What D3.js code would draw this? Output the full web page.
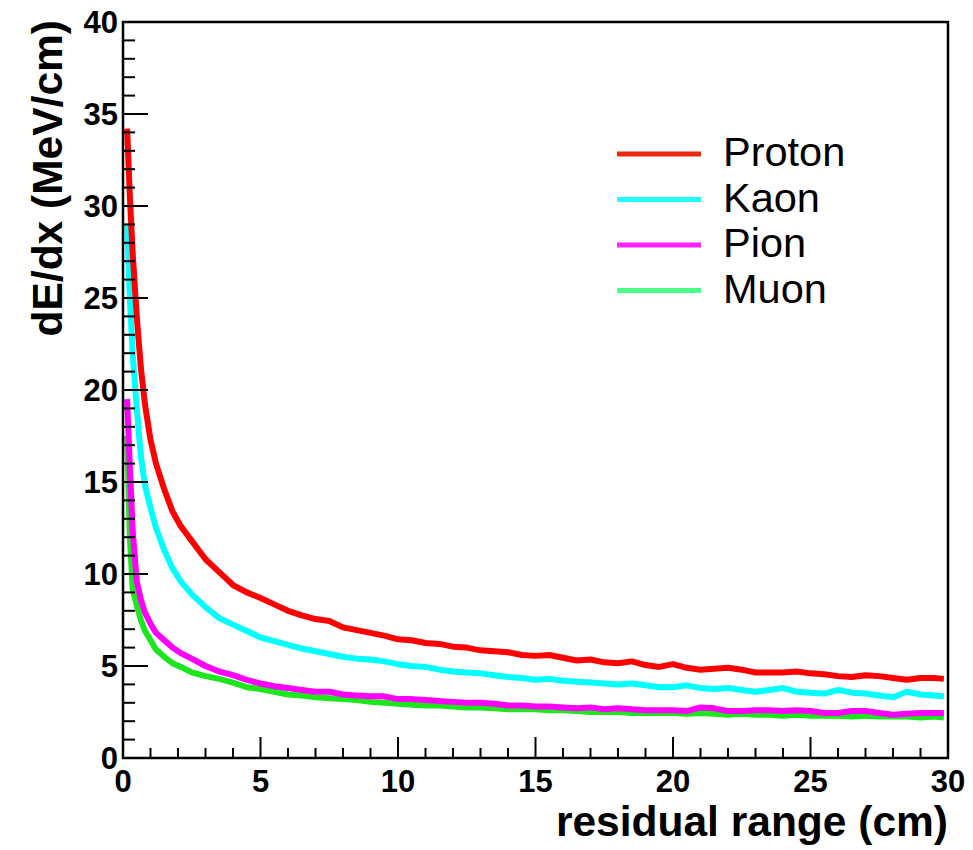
<!DOCTYPE html>
<html>
<head>
<meta charset="utf-8">
<script src="https://cdn.jsdelivr.net/npm/d3@7"></script>
<style>
  body { margin: 0; background: #fff; }
  svg { display: block; font-family: "Liberation Sans", Arial, Helvetica, sans-serif; }
</style>
</head>
<body>
<svg id="chart" width="973" height="850"></svg>
<script>
// residual range bins (cm)
const rr = [0.15, 0.25, 0.35, 0.5, 0.65, 0.8, 1.0, 1.2, 1.5, 1.8, 2.1, 2.5,
  3.0, 3.5, 4.0, 4.5, 5.0, 5.5, 6.0, 6.5, 7.0, 7.5, 8.0, 8.5, 9.0, 9.5,
  10.0, 10.5, 11.0, 11.5, 12.0, 12.5, 13.0, 13.5, 14.0, 14.5, 15.0, 15.5,
  16.0, 16.5, 17.0, 17.5, 18.0, 18.5, 19.0, 19.5, 20.0, 20.5, 21.0, 21.5,
  22.0, 22.5, 23.0, 23.5, 24.0, 24.5, 25.0, 25.5, 26.0, 26.5, 27.0, 27.5,
  28.0, 28.5, 29.0, 29.5, 29.85];

const proton = [34.2, 30.5, 27.5, 24.0, 21.2, 19.2, 17.3, 16.0, 14.6, 13.4, 12.6, 11.8,
  10.8, 10.1, 9.4, 9.0, 8.7, 8.35, 8.0, 7.75, 7.55, 7.45, 7.1, 6.95, 6.8, 6.65,
  6.45, 6.4, 6.25, 6.2, 6.05, 6.0, 5.85, 5.8, 5.75, 5.6, 5.55, 5.6,
  5.45, 5.3, 5.35, 5.2, 5.15, 5.25, 5.05, 4.95, 5.1, 4.9, 4.8, 4.85,
  4.9, 4.8, 4.65, 4.65, 4.65, 4.7, 4.6, 4.55, 4.45, 4.4, 4.5, 4.45,
  4.35, 4.25, 4.35, 4.35, 4.3];

const kaon = [29.0, 24.9, 22.0, 19.0, 16.4, 14.8, 13.6, 12.5, 11.3, 10.3, 9.6, 8.9,
  8.2, 7.6, 7.25, 6.9, 6.55, 6.35, 6.15, 5.95, 5.8, 5.65, 5.5, 5.4, 5.35, 5.25,
  5.1, 5.0, 4.95, 4.8, 4.7, 4.65, 4.6, 4.5, 4.4, 4.35, 4.25, 4.3,
  4.2, 4.15, 4.1, 4.05, 4.0, 4.05, 3.95, 3.85, 3.85, 3.95, 3.8, 3.75,
  3.8, 3.7, 3.6, 3.7, 3.8, 3.6, 3.55, 3.5, 3.7, 3.55, 3.5, 3.4,
  3.3, 3.6, 3.45, 3.4, 3.35];

const pion = [19.5, 15.8, 12.4, 9.6, 8.6, 7.9, 7.3, 6.8, 6.4, 6.0, 5.7, 5.4,
  5.0, 4.7, 4.5, 4.25, 4.05, 3.9, 3.8, 3.7, 3.6, 3.6, 3.45, 3.4, 3.35, 3.35,
  3.2, 3.2, 3.15, 3.1, 3.05, 3.0, 3.0, 2.95, 2.85, 2.85, 2.8, 2.8,
  2.75, 2.7, 2.75, 2.65, 2.7, 2.65, 2.6, 2.6, 2.6, 2.55, 2.75, 2.7,
  2.55, 2.55, 2.6, 2.6, 2.55, 2.6, 2.55, 2.45, 2.45, 2.55, 2.55, 2.45,
  2.35, 2.4, 2.45, 2.45, 2.45];

const muon = [17.5, 12.0, 9.2, 8.3, 7.5, 6.9, 6.4, 5.9, 5.5, 5.15, 4.95, 4.65,
  4.45, 4.3, 4.1, 3.85, 3.75, 3.6, 3.45, 3.4, 3.3, 3.25, 3.2, 3.15, 3.05, 3.0,
  2.95, 2.9, 2.85, 2.85, 2.8, 2.75, 2.75, 2.7, 2.65, 2.65, 2.65, 2.6,
  2.6, 2.55, 2.5, 2.5, 2.5, 2.45, 2.45, 2.45, 2.45, 2.4, 2.45, 2.4,
  2.35, 2.4, 2.35, 2.35, 2.3, 2.35, 2.3, 2.3, 2.3, 2.25, 2.3, 2.25,
  2.25, 2.25, 2.2, 2.25, 2.2];

const names = ["Proton", "Kaon", "Pion", "Muon"];
const lineColors = ["#ff0000", "#00ffff", "#ff00ff", "#1ee61e"];
const legendColors = ["#e8290e", "#22ffff", "#ff22ff", "#4dff88"];
const xTicks = [0, 5, 10, 15, 20, 25, 30];
const yTicks = [0, 5, 10, 15, 20, 25, 30, 35, 40];

const series = [proton, kaon, pion, muon];

const svg = d3.select("#chart");
const m = {left: 123, right: 948, top: 22, bottom: 758};

const x = d3.scaleLinear().domain([0, 30]).range([m.left, m.right]);
const y = d3.scaleLinear().domain([0, 40]).range([m.bottom, m.top]);

svg.append("defs").append("clipPath").attr("id", "plot")
  .append("rect")
  .attr("x", m.left).attr("y", m.top)
  .attr("width", m.right - m.left).attr("height", m.bottom - m.top);

// curves, muon drawn first so the heavier particles sit on top
const line = d3.line().x((d, i) => x(rr[i])).y(d => y(d));
const order = [3, 2, 1, 0];
svg.append("g").attr("clip-path", "url(#plot)")
  .selectAll("path").data(order)
  .join("path")
  .attr("d", i => line(series[i]))
  .attr("fill", "none")
  .attr("stroke", i => lineColors[i])
  .attr("stroke-width", 6)
  .attr("stroke-linejoin", "round");

// frame
svg.append("rect")
  .attr("x", m.left).attr("y", m.top)
  .attr("width", m.right - m.left).attr("height", m.bottom - m.top)
  .attr("fill", "none").attr("stroke", "#000").attr("stroke-width", 2.5);

// x axis: major ticks every 5, minor every 1, pointing up
const xAxis = svg.append("g");
xAxis.selectAll("line").data(d3.range(0, 31))
  .join("line")
  .attr("x1", d => x(d)).attr("x2", d => x(d))
  .attr("y1", m.bottom).attr("y2", d => m.bottom - (d % 5 === 0 ? 21 : 10))
  .attr("stroke", "#000").attr("stroke-width", 2);
xAxis.selectAll("text").data(xTicks)
  .join("text")
  .attr("x", d => x(d)).attr("y", 792)
  .attr("text-anchor", "middle")
  .attr("font-size", 31).attr("font-weight", "bold")
  .text(d => d);

// y axis
const yAxis = svg.append("g");
yAxis.selectAll("line").data(d3.range(0, 41))
  .join("line")
  .attr("x1", m.left).attr("x2", d => m.left + (d % 5 === 0 ? 25 : 12))
  .attr("y1", d => y(d)).attr("y2", d => y(d))
  .attr("stroke", "#000").attr("stroke-width", 2);
yAxis.selectAll("text").data(yTicks)
  .join("text")
  .attr("x", 118).attr("y", d => y(d) + 11)
  .attr("text-anchor", "end")
  .attr("font-size", 31).attr("font-weight", "bold")
  .text(d => d);

// axis titles
svg.append("text")
  .attr("x", m.right).attr("y", 836)
  .attr("text-anchor", "end")
  .attr("font-size", 42.5).attr("font-weight", "bold")
  .text("residual range (cm)");

svg.append("text")
  .attr("transform", `translate(62,${m.top - 2}) rotate(-90)`)
  .attr("text-anchor", "end")
  .attr("font-size", 42.5).attr("font-weight", "bold")
  .text("dE/dx (MeV/cm)");

// legend
const legend = svg.append("g");
const rows = legend.selectAll("g").data(names)
  .join("g")
  .attr("transform", (d, i) => `translate(0,${154 + i * 45.5})`);
rows.append("line")
  .attr("x1", 617).attr("x2", 701)
  .attr("stroke", (d, i) => legendColors[i])
  .attr("stroke-width", 5);
rows.append("text")
  .attr("x", 723).attr("y", 12)
  .attr("font-size", 41.5)
  .text(d => d);
</script>
</body>
</html>
